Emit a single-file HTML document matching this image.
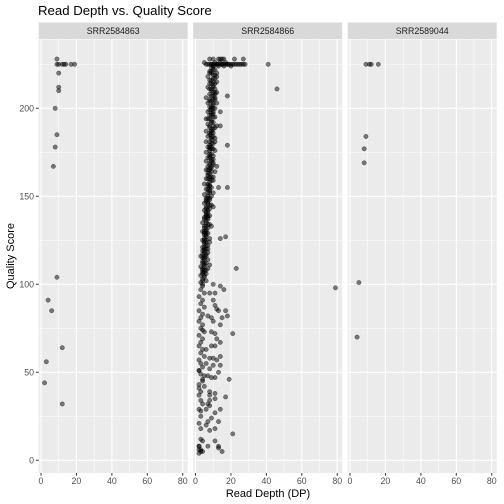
<!DOCTYPE html>
<html><head><meta charset="utf-8"><style>
html,body{margin:0;padding:0;background:#fff;}
svg{display:block;font-family:"Liberation Sans",sans-serif;}
</style></head><body>
<svg id="chart" width="504" height="504" viewBox="0 0 504 504">
<text x="38" y="15" font-size="13.2" fill="#000">Read Depth vs. Quality Score</text>
<text x="268" y="497" font-size="11" fill="#000" text-anchor="middle">Read Depth (DP)</text>
<text transform="translate(14,256) rotate(-90)" font-size="11" fill="#000" text-anchor="middle">Quality Score</text>
<g id="panels"></g>
</svg>
<script>
const samples = ["SRR2584863","SRR2584866","SRR2589044"];
const xTicks = [0,20,40,60,80];
const yTicks = [0,50,100,150,200];
const xMinor = [10,30,50,70];
const yMinor = [25,75,125,175,225];
const depth1 = [9,9,10,12,13,14,17,19,10,10,10,8,9,8,7,9,4,6,12,3,2,12];
const qual1  = [228,225,225,225,225,225,225,225,220,212,210,200,185,178,167,104,91,85,64,56,44,32];
const depth3 = [9,11,12,16,9,8,8,5,4];
const qual3  = [225,225,225,225,184,177,169,101,70];
const pairs2 = [
[9,223],[11,222],[8,221],[12,220],[10,219],[7,218],[11,217],[9,216],[12,215],[8,214],[10,213],[7,212],[11,211],[9,210],[12,209],[8,208],[10,207],[6,206],[11,205],[9,204],[7,203],[10,202],[8,201],[11,200],[9,199],[7,198],[10,197],[8,196],[11,195],[6,194],[9,193],[10,192],[7,191],[8,190],[11,189],[9,188],[6,187],[10,186],[8,185],[7,184],[11,183],[9,182],[6,181],[10,180],[8,179],[7,178],[9,177],[11,176],[6,175],[8,174],[10,173],[7,172],[9,171],[6,170],[8,169],[10,168],[7,167],[9,166],[6,165],[11,164],[8,163],[7,162],[9,161],[6,160],[10,159],[8,158],[5,157],[7,156],[9,155],[6,154],[8,153],[7,152],[5,151],[9,150],[6,149],[8,148],[7,147],[5,146],[9,145],[6,144],[8,143],[5,142],[7,141],[6,140],[8,139],[5,138],[7,137],[6,136],[4,135],[8,134],[5,133],[7,132],[6,131],[4,130],[7,129],[5,128],[6,127],[8,126],[4,125],[6,124],[5,123],[7,122],[4,121],[6,120],[5,119],[7,118],[4,117],[6,116],[5,115],[7,114],[4,113],[6,112],[5,111],[3,110],[7,109],[5,108],[4,107],[6,106],[3,105],[5,104],[4,103],[6,102],[3,101],
[10,224],[8,220],[12,218],[9,214],[11,209],[8,205],[12,203],[10,198],[7,194],[12,190],[9,186],[11,181],[8,177],[10,171],[12,167],[7,165],[10,161],[8,156],[10,152],[6,147],[10,144],[7,138],[9,133],[5,130],[8,124],[7,120],[3,116],[8,111],[6,108],[4,100],
[10,222],[9,220],[11,219],[10,217],[8,216],[11,214],[10,212],[8,211],[10,209],[9,207],[11,206],[8,204],[10,203],[9,201],[10,200],[8,199],[9,197],[10,195],[8,194],[9,192],[10,190],[8,189],[9,187],[8,186],[10,184],[9,183],[8,181],[9,180],[8,178],[10,177],[8,176],[9,174],[8,172],[9,170],[8,168],[9,167],[8,165],[9,164],[7,163],[8,161],[7,160],[9,159],[7,157],[8,156],[7,154],[8,152],[7,150],[8,149],[6,148],[7,146],[8,145],[6,143],[7,142],[6,141],[7,139],[6,138],[5,137],[6,135],[7,134],[5,132],[6,130],[5,129],[6,128],[5,126],[6,125],[5,124],[6,122],[5,121],[4,119],[5,118],[6,117],[4,115],[5,114],[4,112],[5,110],[4,109],[5,107],[4,106],[5,105],[4,102],
[9,221],[10,215],[9,211],[10,205],[9,200],[9,196],[10,188],[9,184],[9,178],[8,173],[10,169],[8,166],[8,160],[8,154],[7,149],[7,144],[6,139],[6,133],[6,129],[5,125],[5,120],[5,116],[5,112],[4,108],
[4,99],[3,97],[5,95],[2,93],[4,91],[3,89],[5,87],[2,85],[4,83],[3,81],[2,79],[4,77],[3,75],[5,73],[2,71],[4,69],[3,67],[2,65],[4,63],[3,61],[5,59],[2,57],[3,55],[4,53],[2,51],[3,49],[4,45],[2,43],[3,39],[2,37],[4,32],[3,25],[2,21],[3,12],[2,8],[2,6],[3,5],[4,5],[2,4],[3,6],
[6,225],[7,225],[8,225],[9,225],[10,225],[11,225],[12,225],[13,225],[14,225],[15,225],[16,225],[17,225],[18,225],[19,225],[20,225],[21,225],[22,225],[23,225],[24,225],[25,225],[26,225],[27,225],[28,225],[9,225],[12,225],[15,225],[18,225],[10,224],[13,224],[16,224],[20,224],[11,226],[14,226],[17,226],
[5,226],[8,228],[10,228],[13,228],[14,228],[15,228],[16,228],[22,228],[27,228],
[46,211],[41,225],[18,207],[18,179],[14,190],[13,155],[18,155],[14,126],[17,127],[14,198],[11,208],[79,98],
[23,109],[10,100],[14,99],[16,97],[8,95],[11,95],[10,91],[11,88],[12,86],[13,85],[17,85],[18,82],[15,81],[7,82],[9,81],[10,79],[14,77],[4,74],[9,73],[11,72],[21,72],[12,69],[14,67],[9,65],[11,65],[6,63],[14,59],[8,58],[10,58],[12,57],[10,54],[14,54],[6,55],[8,52],[2,51],[13,50],[7,48],[9,47],[11,47],[19,46],[4,46],[5,48],[2,41],[5,42],[8,39],[11,38],[8,37],[17,36],[3,34],[8,34],[11,35],[7,32],[8,31],[2,29],[3,28],[6,29],[11,27],[14,29],[9,24],[13,22],[7,22],[6,20],[3,18],[8,17],[11,18],[21,15],[4,11],[11,11],[2,8],[7,8],[13,8],[13,7],[15,5]
];
const depth2 = pairs2.map(p=>p[0]);
const qual2 = pairs2.map(p=>p[1]);
const series = [[depth1,qual1],[depth2,qual2],[depth3,qual3]];

const NS="http://www.w3.org/2000/svg";
const panelsG=document.getElementById('panels');
const panelLeft=[38.7,193.2,347.7], panelW=149, panelTop=39.5, panelBottom=473;
const xLo=-1.3, xHi=82.8;
const yScale=v=>460.3-v*1.76;
function mk(tag,attrs,parent){const e=document.createElementNS(NS,tag);for(const k in attrs)e.setAttribute(k,attrs[k]);parent.appendChild(e);return e;}
samples.forEach((s,i)=>{
  const L=panelLeft[i];
  const xs=v=>L+(v-xLo)/(xHi-xLo)*panelW;
  const g=mk('g',{},panelsG);
  
  
  const strip=mk('rect',{x:L,y:22.5,width:panelW,height:16.5,fill:'#d9d9d9'},g);
  
  
  const st=mk('text',{x:L+panelW/2,y:34,'font-size':8.8,fill:'#1a1a1a','text-anchor':'middle'},g);
  st.textContent=s;
  
  
  const bg=mk('rect',{x:L,y:panelTop,width:panelW,height:panelBottom-panelTop,fill:'#ebebeb'},g);
  
  
  xMinor.forEach(v=>mk('line',{x1:xs(v),x2:xs(v),y1:panelTop,y2:panelBottom,stroke:'#fff','stroke-width':0.5},g));
  yMinor.forEach(v=>mk('line',{x1:L,x2:L+panelW,y1:yScale(v),y2:yScale(v),stroke:'#fff','stroke-width':0.5},g));
  xTicks.forEach(v=>{
    mk('line',{x1:xs(v),x2:xs(v),y1:panelTop,y2:panelBottom,stroke:'#fff','stroke-width':1.1},g);
    mk('line',{x1:xs(v),x2:xs(v),y1:panelBottom,y2:panelBottom+2.7,stroke:'#333','stroke-width':1},g);
    const t=mk('text',{x:xs(v),y:484,'font-size':8.8,fill:'#4d4d4d','text-anchor':'middle'},g);
    t.textContent=v;
    
    
  });
  yTicks.forEach(v=>mk('line',{x1:L,x2:L+panelW,y1:yScale(v),y2:yScale(v),stroke:'#fff','stroke-width':1.1},g));
  const [dx,dy]=series[i];
  dx.forEach((d,k)=>{
    const c=mk('circle',{cx:xs(d),cy:yScale(dy[k]),r:2.2,fill:'rgba(0,0,0,0.5)',stroke:'rgba(0,0,0,0.5)','stroke-width':0.5},g);
    
    
  });
});
const ag=mk('g',{},panelsG);


yTicks.forEach(v=>{
  mk('line',{x1:36,x2:38.7,y1:yScale(v),y2:yScale(v),stroke:'#333','stroke-width':1},ag);
  const t=mk('text',{x:34,y:yScale(v)+3,'font-size':8.8,fill:'#4d4d4d','text-anchor':'end'},ag);
  t.textContent=v;
  
  
});
</script>
</body></html>
